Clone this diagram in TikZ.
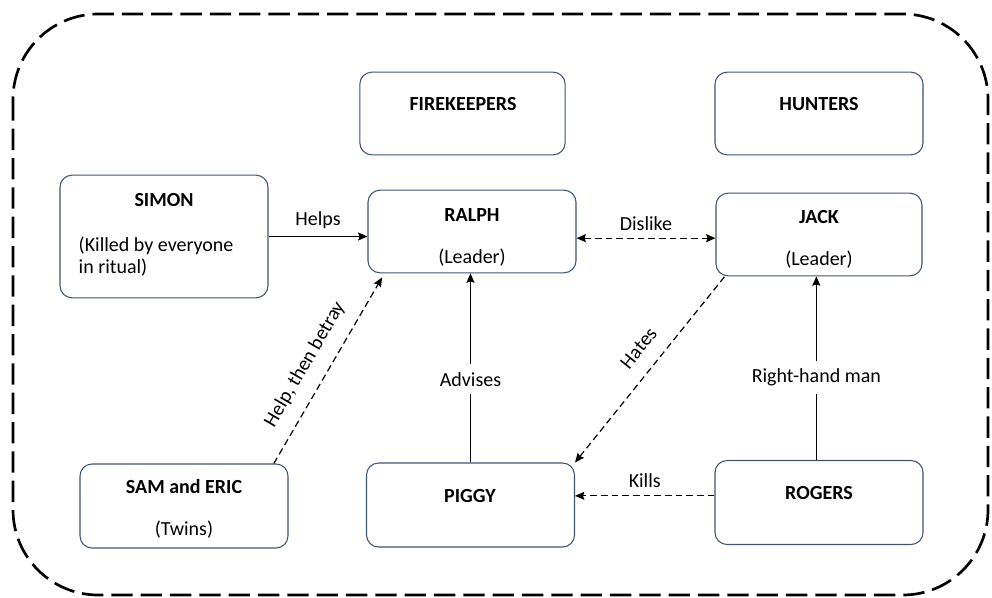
\documentclass[tikz,border=0pt]{standalone}
\usepackage{fontspec}
\setmainfont{Carlito}
\usetikzlibrary{arrows.meta}
\tikzset{>={Stealth[length=7pt,width=6pt,inset=1pt]}}
\usetikzlibrary{positioning}
\definecolor{boxline}{RGB}{65,84,110}
\tikzset{
  box/.style={draw=boxline, line width=0.8pt, rounded corners=9pt,
    minimum width=156pt, minimum height=62pt},
  title/.style={font=\fontsize{15pt}{18pt}\selectfont\bfseries},
  rel/.style={line width=0.9pt},
  reldash/.style={line width=0.9pt, dash pattern=on 5pt off 3pt},
}

\begin{document}
\begin{tikzpicture}[x=0.75pt,y=-0.75pt,font=\fontsize{15pt}{16.5pt}\selectfont]
        \useasboundingbox (0,0) rectangle (992,597);
        \draw[line width=2pt, dash pattern=on 16pt off 6pt, rounded corners=64pt]
            (13,14) rectangle (988,595);

        % groups
        \node[box, minimum width=154pt] (fire) at (462.5,113.5) {};
        \node[box] (hunt) at (819,113.5) {};
        \node[title] (fire-t) at (463,104) {FIREKEEPERS};
        \node[title] (hunt-t) at (819,104) {HUNTERS};

        % characters
        \node[box, minimum height=92pt] (simon) at (164,236.5) {};
        \node[box] (ralph) at (472,231.5) {};
        \node[box, minimum width=154.5pt] (jack) at (819,234.5) {};
        \node[box, minimum height=63pt] (sam) at (184,506) {};
        \node[box, minimum height=63pt] (piggy) at (470.5,505) {};
        \node[box, minimum height=63pt] (rogers) at (819,502.5) {};

        \node[title] (simon-t) at (164,200) {SIMON};
        \node[anchor=west, align=left] (simon-s) at (74,257) {(Killed by everyone\\in ritual)};
        \node[title] (ralph-t) at (472,215) {RALPH};
        \node (ralph-s) at (472,258) {(Leader)};
        \node[title] (jack-t) at (819,217) {JACK};
        \node (jack-s) at (819,260) {(Leader)};
        \node[title] (sam-t) at (184,487) {SAM and ERIC};
        \node (sam-s) at (184,530) {(Twins)};
        \node[title] (piggy-t) at (470,496) {PIGGY};
        \node[title] (rogers-t) at (819,493) {ROGERS};

        % relations
        \draw[rel,->] (simon.east) -- node[above=2pt] {Helps} (simon.east -| ralph.west);
        \draw[reldash,<->] ([yshift=-5pt]ralph.east) -- node[above=2pt] {Dislike}
            ([yshift=-5pt]ralph.east -| jack.west);
        \draw[rel,->] (piggy.north) -- node[pos=.44, fill=white, inner ysep=6pt] {Advises}
            (piggy.north |- ralph.south);
        \draw[reldash,->] ([xshift=-11pt]sam.north east) -- node[pos=.47, above=7pt, sloped] {Help, then betray}
            ([xshift=11pt,yshift=-3pt]ralph.south west);
        \draw[reldash,<-] (piggy.north east) -- node[pos=.54, above=8pt, sloped] {Hates}
            ([xshift=7pt]jack.south west);
        \draw[reldash,->] ([yshift=5pt]rogers.west) -- node[above=2pt] {Kills}
            ([yshift=5pt]rogers.west -| piggy.east);
        \draw[rel,->] ([xshift=-2pt]rogers.north) -- node[pos=.45, fill=white, inner ysep=6pt] {Right-hand man}
            ([xshift=-2pt]rogers.north |- jack.south);
\end{tikzpicture}
\end{document}
